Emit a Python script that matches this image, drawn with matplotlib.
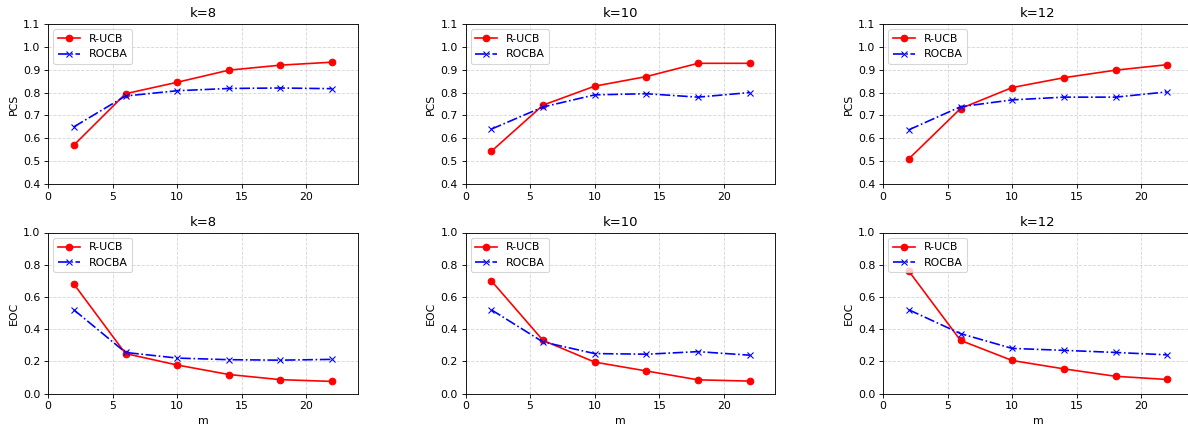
import matplotlib
matplotlib.use("Agg")
import matplotlib.pyplot as plt
import numpy as np

m = [2, 6, 10, 14, 18, 22]
ks = ["k=8", "k=10", "k=12"]

pcs_rucb = [
    [0.57, 0.795, 0.845, 0.898, 0.920, 0.933],
    [0.543, 0.745, 0.828, 0.870, 0.928, 0.928],
    [0.510, 0.730, 0.822, 0.865, 0.898, 0.922],
]
pcs_rocba = [
    [0.650, 0.785, 0.808, 0.818, 0.820, 0.817],
    [0.640, 0.737, 0.790, 0.795, 0.780, 0.800],
    [0.637, 0.738, 0.768, 0.780, 0.780, 0.803],
]
eoc_rucb = [
    [0.680, 0.248, 0.177, 0.118, 0.086, 0.075],
    [0.700, 0.330, 0.195, 0.140, 0.085, 0.077],
    [0.760, 0.330, 0.205, 0.153, 0.107, 0.087],
]
eoc_rocba = [
    [0.520, 0.255, 0.220, 0.210, 0.207, 0.212],
    [0.520, 0.320, 0.248, 0.244, 0.260, 0.238],
    [0.520, 0.372, 0.280, 0.268, 0.255, 0.240],
]
pcs_ticks = [0.4, 0.5, 0.6, 0.7, 0.8, 0.9, 1.0, 1.1]
eoc_ticks = [0.0, 0.2, 0.4, 0.6, 0.8, 1.0]

W, H = 1188, 430
DPI = 79
fig = plt.figure(figsize=(W / DPI, H / DPI), dpi=DPI)

lefts = [48, 465.5, 883]
width = 310
rows = [(24, 184), (232.5, 393.5)]

for r, (top, bot) in enumerate(rows):
    for c in range(3):
        ax = fig.add_axes([lefts[c] / W, (H - bot) / H, width / W, (bot - top) / H])
        if r == 0:
            ax.plot(m, pcs_rucb[c], "r-o", label="R-UCB")
            ax.plot(m, pcs_rocba[c], "b-.x", label="ROCBA")
            ax.set_ylim(0.4, 1.1)
            ax.set_yticks(pcs_ticks)
            ax.set_ylabel("PCS")
        else:
            ax.plot(m, eoc_rucb[c], "r-o", label="R-UCB")
            ax.plot(m, eoc_rocba[c], "b-.x", label="ROCBA")
            ax.set_ylim(0.0, 1.0)
            ax.set_yticks(eoc_ticks)
            ax.set_ylabel("EOC")
            ax.set_xlabel("m")
        ax.set_xlim(0, 24)
        ax.set_title(ks[c])
        ax.grid(True, linestyle="--", alpha=0.5)
        ax.legend(loc="upper left")

fig.savefig("out.png", dpi=DPI)
